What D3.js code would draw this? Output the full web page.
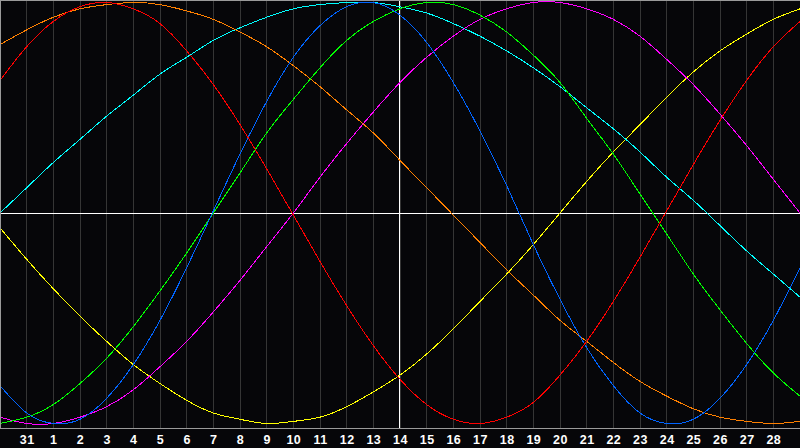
<!DOCTYPE html>
<html>
<meta charset='utf-8'>
<head>
<title>Biorhythm</title>
<script src='https://d3js.org/d3.v7.min.js'></script>
<style>
body { margin: 0; background: #060609; overflow: hidden; }
.tick text { font-family: 'Liberation Sans', Arial, sans-serif; font-weight: bold; font-size: 12.5px; letter-spacing: 0.5px; fill: #fff; }
</style>
</head>
<body>
<div id='chart'></div>
<script>
// days shown along the bottom (first and last sit on the frame edges)
var days = ['30', '31', '1', '2', '3', '4', '5', '6', '7', '8', '9', '10', '11', '12', '13', '14',
            '15', '16', '17', '18', '19', '20', '21', '22', '23', '24', '25', '26', '27', '28', '29'];

// cycle values in percent, one per day
var blue    = [-82, -95, -100, -98, -88, -72, -51, -26, 1, 28, 53, 74, 89, 98, 100, 94,
               81, 62, 39, 13, -15, -41, -64, -82, -95, -100, -98, -88, -72, -51, -26];
var red     = [63, 79, 91, 98, 100, 97, 90, 77, 61, 42, 21, -1, -23, -44, -63, -79,
               -91, -98, -100, -97, -90, -77, -61, -42, -21, 1, 23, 44, 63, 79, 91];
var green   = [-100, -97, -91, -81, -69, -54, -37, -19, 0, 19, 38, 54, 69, 82, 91, 97,
               100, 99, 94, 86, 75, 62, 45, 28, 9, -10, -29, -46, -62, -76, -87];
var magenta = [-97, -100, -100, -97, -92, -84, -73, -61, -47, -32, -16, 0, 17, 33, 48, 62,
               74, 84, 92, 97, 100, 100, 97, 92, 84, 73, 61, 47, 32, 16, 0];
var yellow  = [-7, -22, -36, -49, -61, -72, -81, -89, -95, -98, -100, -99, -97, -92, -85, -77,
               -67, -55, -42, -29, -15, 0, 15, 29, 42, 55, 67, 77, 85, 92, 97];
var orange  = [80, 87, 93, 97, 99, 100, 99, 96, 92, 86, 79, 70, 60, 49, 38, 25,
               12, -1, -14, -27, -39, -51, -61, -71, -80, -87, -93, -97, -99, -100, -99];
var cyan    = [0, 12, 24, 35, 46, 56, 66, 74, 82, 88, 93, 97, 99, 100, 100, 98,
               95, 90, 84, 77, 69, 60, 50, 40, 29, 17, 6, -6, -18, -29, -40];

var series = [
  {name: 'aesthetic', values: yellow, color: '#ffff00'},
  {name: 'spiritual', values: cyan, color: '#00ffff'},
  {name: 'awareness', values: orange, color: '#ff8000'},
  {name: 'intuitive', values: magenta, color: '#ff00ff'},
  {name: 'intellectual', values: green, color: '#00ff00'},
  {name: 'physical', values: blue, color: '#0064ff'},
  {name: 'emotional', values: red, color: '#ff0000'}
];

var width = 800, height = 448, plotBottom = 428;

var svg = d3.select('#chart')
    .append('svg')
    .attr('width', width)
    .attr('height', height);

var x = d3.scalePoint()
    .domain(days)
    .range([0, width]);

var y = d3.scaleLinear()
    .domain([-100, 100])
    .range([423.5, 2.5]);

svg.append('rect')
    .attr('width', width)
    .attr('height', height)
    .attr('fill', '#060609');

// vertical day grid
svg.append('g')
    .selectAll('line')
    .data(days.slice(1, -1))
    .enter()
    .append('line')
    .attr('x1', (d) => Math.floor(x(d)) + 0.5)
    .attr('x2', (d) => Math.floor(x(d)) + 0.5)
    .attr('y1', 0)
    .attr('y2', plotBottom)
    .style('stroke', '#353535')
    .style('shape-rendering', 'crispEdges');

// centre cross
svg.append('line')
    .attr('x1', 0).attr('x2', width)
    .attr('y1', Math.floor(y(0)) + 0.5).attr('y2', Math.floor(y(0)) + 0.5)
    .style('stroke', '#ffffff')
    .style('shape-rendering', 'crispEdges');

svg.append('line')
    .attr('x1', Math.floor(x('14')) - 0.5).attr('x2', Math.floor(x('14')) - 0.5)
    .attr('y1', 0).attr('y2', plotBottom)
    .style('stroke', '#ffffff')
    .style('shape-rendering', 'crispEdges');

var line = d3.line()
    .x((d, i) => x(days[i]))
    .y((d) => y(d))
    .curve(d3.curveNatural);

svg.selectAll('.cycle')
    .data(series)
    .enter()
    .append('path')
    .attr('class', 'cycle')
    .attr('d', (d) => line(d.values))
    .style('fill', 'none')
    .style('stroke', (d) => d.color)
    .style('stroke-width', 1)
    .style('shape-rendering', 'crispEdges');

// frame: top, left, bottom
svg.append('path')
    .attr('d', 'M' + width + ',0.5H0.5V' + (plotBottom + 0.5) + 'H' + width)
    .style('fill', 'none')
    .style('stroke', '#9a9a9a')
    .style('shape-rendering', 'crispEdges');

var axis = d3.axisBottom(x)
    .tickValues(days.slice(1, -1))
    .tickSize(0)
    .tickPadding(7);

var ax = svg.append('g')
    .attr('transform', 'translate(0,' + plotBottom + ')')
    .call(axis);
ax.select('.domain').remove();
</script>
</body>
</html>
